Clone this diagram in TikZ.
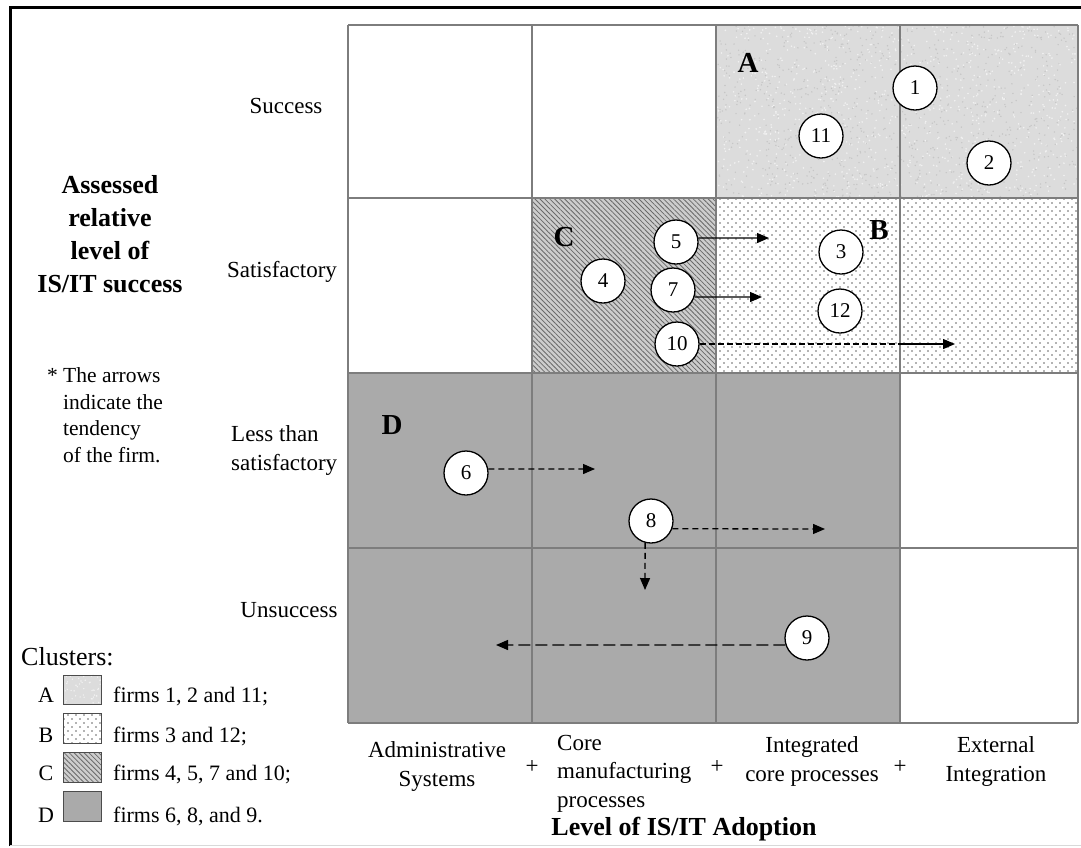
\documentclass[tikz,border=0pt]{standalone}
\usepackage{fontspec}
\setmainfont{Liberation Serif}
\usetikzlibrary{patterns.meta,arrows.meta}
\definecolor{dfill}{RGB}{170,170,170}
\definecolor{afill}{RGB}{220,220,220}
\definecolor{aspeck}{RGB}{198,198,198}
\definecolor{gridc}{RGB}{125,125,125}
\definecolor{cfill}{RGB}{205,205,205}
\definecolor{cline}{RGB}{105,105,105}
\definecolor{bdot}{RGB}{105,105,105}
\begin{document}
\begin{tikzpicture}[x=1pt,y=-1pt,
  firm/.style={circle,draw=black,fill=white,line width=1.3pt,minimum size=44pt,inner sep=0pt,font=\fontsize{21}{21}\selectfont},
  lbl/.style={inner sep=0pt,font=\fontsize{23}{28.5}\selectfont},
  title/.style={inner sep=0pt,font=\bfseries\fontsize{26}{33}\selectfont},
  note/.style={inner sep=0pt,font=\fontsize{21.5}{26.5}\selectfont},
  leg/.style={inner sep=0pt,font=\fontsize{22}{22}\selectfont},
  clus/.style={inner sep=0pt,font=\bfseries\fontsize{29}{29}\selectfont},
  tip/.style={-{Triangle[length=12pt,width=10pt]},line width=1.3pt},
  dashA/.style={dash pattern=on 6pt off 4pt},
  dashB/.style={dash pattern=on 12pt off 5pt},
  gridline/.style={draw=gridc,line width=1.4pt},
  apat/.style={fill=afill},
  bpat/.style={pattern={Dots[radius=0.8pt,distance=8pt]},pattern color=bdot},
  bpat2/.style={pattern={Dots[radius=0.8pt,distance=8pt,xshift=4pt,yshift=4pt]},pattern color=bdot},
  cpat/.style={pattern={Lines[angle=-45,distance=3.5pt,line width=0.8pt]},pattern color=cline},
  legbox/.style={draw=black!70,line width=1pt},
]
\useasboundingbox (0,0) rectangle (1081,847);
\fill[white] (0,0) rectangle (1081,847);
% outer frame
\draw[line width=3pt] (10,846) -- (10,7) -- (1081,7);
\draw[black!15,line width=1pt] (10,845) -- (1081,845);

% cluster fills
\fill[apat] (716,25) rectangle (1078,198);
\pgfmathsetseed{7}
\foreach \i in {1,...,900}{
  \fill[white!60!afill] ({716+362*rnd},{25+173*rnd}) circle (0.9);
  \fill[aspeck] ({716+362*rnd},{25+173*rnd}) circle (0.8);
}
\fill[bpat] (716,198) rectangle (1078,373);
\fill[bpat2] (716,198) rectangle (1078,373);
\fill[cfill] (532,198) rectangle (716,373);
\fill[cpat] (532,198) rectangle (716,373);
\fill[dfill] (348,373) rectangle (900,723);

% grid
\foreach \x in {348,532,716,900,1078}{\draw[gridline] (\x,25) -- (\x,723);}
\foreach \y in {25,198,373,548,723}{\draw[gridline] (348,\y) -- (1078,\y);}

% cluster letters
\node[clus] (lA) at (748,63) {A};
\node[clus] (lB) at (879,230) {B};
\node[clus] (lC) at (564,237) {C};
\node[clus] (lD) at (392,425) {D};

% firms
\node[firm] (n1) at (915,88) {1};
\node[firm] (n11) at (821,136) {11};
\node[firm] (n2) at (989,163) {2};
\node[firm] (n3) at (841,252) {3};
\node[firm] (n12) at (840,311) {12};
\node[firm] (n4) at (603,281) {4};
\node[firm] (n5) at (676,242) {5};
\node[firm] (n7) at (673,290) {7};
\node[firm] (n10) at (677,344) {10};
\node[firm] (n6) at (466,473) {6};
\node[firm] (n8) at (651,521) {8};
\node[firm] (n9) at (807,638) {9};

% tendency arrows
\coordinate (e5) at (769,238);
\coordinate (e7) at (762,297);
\coordinate (m10) at (900,344);
\coordinate (e10) at (955,344);
\coordinate (e6) at (595,469);
\coordinate (e8r) at (825,529);
\coordinate (e8d) at (645,590);
\coordinate (e9) at (496,645);
\draw[tip] (n5.10) -- (e5);
\draw[tip] (n7.-18) -- (e7);
\draw[line width=1.3pt,dash pattern=on 6pt off 3pt] (n10.east) -- (m10);
\draw[tip] (m10) -- (e10);
\draw[tip,dashA] (n6.10) -- (e6);
\draw[tip,dashA] (n8.-20) -- (e8r);
\draw[tip,dashA] (n8.-105) -- (e8d);
\draw[tip,dashB] (n9.198) -- (e9);

% row labels
\node[lbl,anchor=base] (rSucc) at (286,113) {Success};
\node[lbl,anchor=base] (rSat) at (282,277) {Satisfactory};
\node[lbl,anchor=base west,align=left] (rLess) at (231,470) {Less than\\satisfactory};
\node[lbl,anchor=base] (rUns) at (289,617) {Unsuccess};

% title (base anchor = last line)
\node[title,anchor=base,align=center] (ttl) at (110,292) {Assessed\\relative\\level of\\IS/IT success};

% note
\node[note,anchor=base west,align=left] (nt) at (63,462) {\llap{* }The arrows\\indicate the\\tendency\\of the firm.};

% legend
\node[inner sep=0pt,anchor=base west,font=\fontsize{26}{26}\selectfont] (clt) at (21,665) {Clusters:};
\node[leg,anchor=base] (kA) at (46,702) {A};
\node[leg,anchor=base] (kB) at (46,742) {B};
\node[leg,anchor=base] (kC) at (46,780) {C};
\node[leg,anchor=base] (kD) at (46,822) {D};
\fill[apat] (63,675) rectangle (101,704);
\foreach \i in {1,...,50}{\fill[white!60!afill] ({63+38*rnd},{675+29*rnd}) circle (0.8);}
\draw[legbox] (63,675) rectangle (101,704);
\fill[bpat] (63,713) rectangle (101,743);
\fill[bpat2] (63,713) rectangle (101,743);
\draw[legbox] (63,713) rectangle (101,743);
\fill[cfill] (63,752) rectangle (101,782);
\fill[cpat] (63,752) rectangle (101,782);
\draw[legbox] (63,752) rectangle (101,782);
\fill[dfill] (63,791) rectangle (101,821);
\draw[legbox] (63,791) rectangle (101,821);
\node[leg,anchor=base west] (tA) at (113,702) {firms 1, 2 and 11;};
\node[leg,anchor=base west] (tB) at (113,742) {firms 3 and 12;};
\node[leg,anchor=base west] (tC) at (113,780) {firms 4, 5, 7 and 10;};
\node[leg,anchor=base west] (tD) at (113,822) {firms 6, 8, and 9.};

% column labels (base anchor = last line)
\node[lbl,anchor=base,align=center] (c1) at (437,786) {Administrative\\Systems};
\node[lbl] (p1) at (532,767) {+};
\node[lbl,anchor=base west,align=left] (c2) at (557,807) {Core\\manufacturing\\processes};
\node[lbl] (p2) at (717,767) {+};
\node[lbl,anchor=base,align=center] (c3) at (812,781) {Integrated\\core processes};
\node[lbl] (p3) at (900,767) {+};
\node[lbl,anchor=base,align=center] (c4) at (996,781) {External\\Integration};
\node[title,anchor=base] (xttl) at (684,835) {Level of IS/IT Adoption};
\end{tikzpicture}
\end{document}
